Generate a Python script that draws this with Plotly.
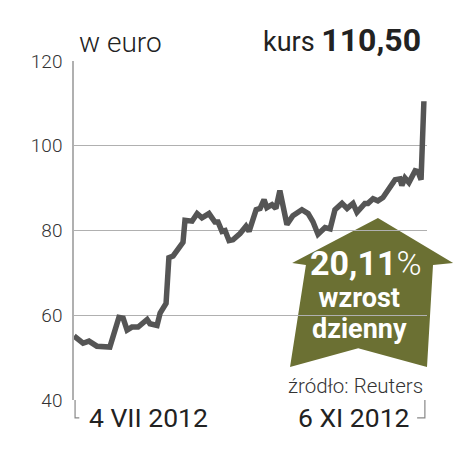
import plotly.graph_objects as go

# days since 4 VII 2012
dni = [0, 3.2, 5.3, 8.1, 12.7, 15.9, 17.4, 18.8, 20.5, 22.7, 25.9, 26.9, 29.4, 30.5,
       32.6, 33.6, 35.1, 37.5, 38.6, 39.3, 41.8, 43.6, 45.3, 47.8, 49.9, 51.0, 52.4,
       53.5, 54.9, 56.3, 58.8, 60.9, 62.0, 64.5, 65.9, 67.3, 68.3, 70.1, 71.5, 72.9,
       75.4, 77.5, 80.7, 82.9, 84.6, 86.4, 88.9, 90.7, 92.4, 94.9, 96.7, 98.8, 100.2,
       103.0, 104.1, 105.9, 107.6, 109.4, 111.2, 113.7, 115.4, 116.1, 117.2, 118.6,
       120.8, 121.8, 122.9, 123.9]
kurs = [55.1, 53.4, 53.9, 52.7, 52.5, 59.5, 59.3, 56.5, 57.2, 57.2, 59.0, 58.0, 57.6, 60.5,
        62.8, 73.6, 74.0, 76.5, 77.2, 82.4, 82.2, 84.0, 83.0, 84.0, 82.0, 82.0, 79.8,
        80.0, 77.6, 77.8, 79.3, 81.0, 79.8, 84.9, 85.2, 87.3, 85.4, 86.1, 85.2, 89.4,
        81.4, 83.5, 84.9, 84.0, 82.1, 79.1, 80.7, 80.4, 84.9, 86.4, 85.2, 86.4, 84.3,
        86.4, 86.4, 87.5, 87.0, 87.8, 89.6, 92.0, 92.2, 90.6, 92.4, 91.3,
        94.1, 93.9, 92.0, 110.5]
y_ticks = [40, 60, 80, 100, 120]
x_labels = ["4 VII 2012", "6 XI 2012"]

FONT = "Roboto"
fig = go.Figure()
fig.add_trace(go.Scatter(x=dni, y=kurs, mode="lines",
                         line=dict(color="#555555", width=5.5),
                         hoverinfo="skip"))

# the page body adds an 8px margin, so the figure is 8px smaller
fig.update_layout(
    width=464, height=449,
    margin=dict(l=66, r=45, t=53, b=57),
    paper_bgcolor="white", plot_bgcolor="white",
    showlegend=False,
    font=dict(family=FONT, color="#333333"),
    xaxis=dict(range=[0, 125], showgrid=False, zeroline=False, showticklabels=False,
               showline=False, fixedrange=True),
    yaxis=dict(range=[40, 120], tickvals=y_ticks, showgrid=True, gridcolor="#b0b0b0",
               gridwidth=1, zeroline=False, showline=True, linecolor="#b0b0b0",
               linewidth=1.5, ticks="", ticklabelstandoff=6,
               tickfont=dict(family=FONT, size=19, color="#333333", weight=300)),
)

# arrow (paper coords)
pts = [(0.861, 0.537), (1.074, 0.404), (1.017, 0.398), (1.0, 0.097), (0.805, 0.153),
       (0.612, 0.097), (0.657, 0.398), (0.618, 0.404)]
path = "M " + " L ".join(f"{x},{y}" for x, y in pts) + " Z"
fig.add_shape(type="path", path=path, xref="paper", yref="paper",
              fillcolor="#6b7033", line=dict(width=0), layer="below")

# bottom brackets
fig.add_shape(type="path", xref="paper", yref="paper",
              path="M 0.003,0 L 0.003,-0.053 L 0.015,-0.053",
              line=dict(color="#888888", width=1.2))
fig.add_shape(type="path", xref="paper", yref="paper",
              path="M 0.994,0 L 0.994,-0.053 L 0.972,-0.053",
              line=dict(color="#888888", width=1.2))

ann = []
ann.append(dict(text="w euro", x=0.0085, y=1.0, xref="paper", yref="paper",
                xanchor="left", yanchor="bottom", yshift=0, showarrow=False,
                font=dict(family=FONT, size=28, color="#222222", weight=300)))
ann.append(dict(text="kurs <b><span style='font-size:32px'>110,50</span></b>",
                x=0.989, y=1.0, xref="paper", yref="paper",
                xanchor="right", yanchor="bottom", yshift=0, showarrow=False,
                font=dict(family=FONT, size=27, color="#222222")))
ann.append(dict(text=x_labels[0], x=0.037, y=0, xref="paper", yref="paper",
                xanchor="left", yanchor="top", yshift=0, showarrow=False,
                font=dict(family=FONT, size=26.5, color="#222222")))
ann.append(dict(text=x_labels[1], x=0.955, y=0, xref="paper", yref="paper",
                xanchor="right", yanchor="top", yshift=0, showarrow=False,
                font=dict(family=FONT, size=26.5, color="#222222")))
ann.append(dict(text="<b>20,11</b><span style='font-weight:300'>%</span>",
                x=0.826, y=0.404, xref="paper", yref="paper",
                xanchor="center", yanchor="middle", showarrow=False,
                font=dict(family=FONT, size=34, color="white")))
ann.append(dict(text="<b><span style='font-size:27px'>wzrost</span></b><br>"
                     "<b><span style='font-size:27px'>dzienny</span></b>",
                x=0.810, y=0.254, xref="paper", yref="paper",
                xanchor="center", yanchor="middle", showarrow=False,
                font=dict(family=FONT, size=24, color="white")))
ann.append(dict(text="źródło: Reuters", x=0.994, y=0.041, xref="paper", yref="paper",
                xanchor="right", yanchor="middle", showarrow=False,
                font=dict(family=FONT, size=20.5, color="#333333", weight=300)))
fig.update_layout(annotations=ann)

fig.write_html("out.html")
